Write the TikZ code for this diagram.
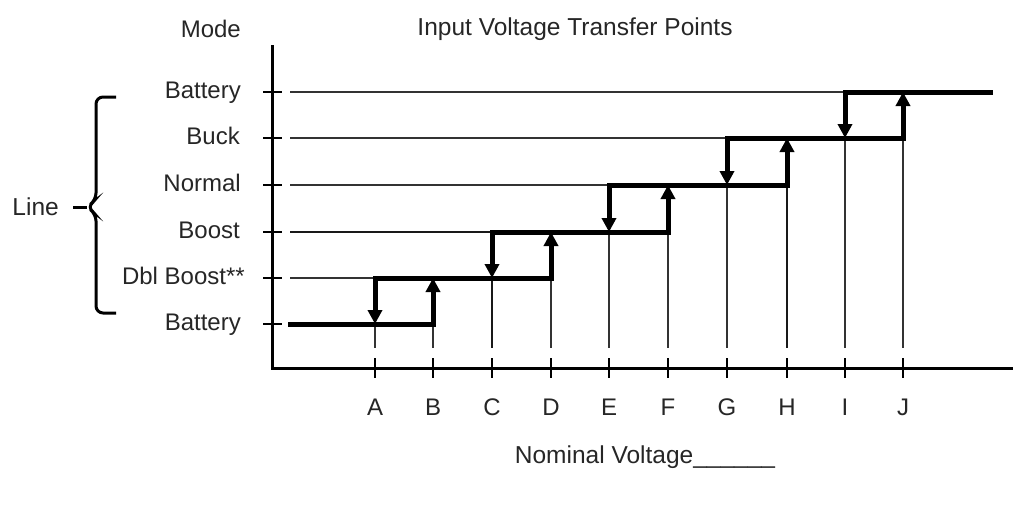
\documentclass[tikz,border=0pt]{standalone}
\usepackage{fontspec}
\setmainfont{Liberation Sans}
\usepackage{tikz}
\usetikzlibrary{arrows.meta,positioning}
\tikzstyle{axis} = [draw, line width=3pt, line join=miter]
\tikzstyle{tick} = [draw, line width=2.5pt]
\tikzstyle{guide} = [draw, line width=1.2pt, black!80]
\tikzstyle{midguide} = [draw, line width=2.4pt, black!90]
\tikzstyle{trace} = [draw, line width=5pt, line cap=rect]
\tikzstyle{jump} = [draw, line width=5pt, -{Triangle[length=14pt,width=14pt]}]
\tikzstyle{mode} = [anchor=base east, inner sep=0pt, text=black!85, font=\fontsize{24}{28}\selectfont]
\tikzstyle{letter} = [inner sep=3pt, text=black!85, font=\fontsize{24}{28}\selectfont]
\tikzstyle{caption} = [anchor=base, inner sep=0pt, text=black!85, font=\fontsize{24.5}{28}\selectfont]
\tikzstyle{brace} = [draw, line width=3pt, rounded corners=7pt]

\begin{document}
\begin{tikzpicture}[x=1pt, y=-1pt]
\useasboundingbox (0,0) rectangle (1024,507);

% axes
\coordinate (origin) at (272,368);
\coordinate (ytop) at (272,45);
\coordinate (xend) at (1013,368);
\path [axis] (ytop) -- (origin) -- (xend);

% mode levels and transfer points
\foreach \lvl/\y in {bat0/324, dbl/278, boost/232, normal/185, buck/138, bat1/92}
  \coordinate (\lvl) at (272,\y);
\foreach \n/\x in {A/375, B/433, C/492, D/551, E/609, F/668, G/727, H/787, I/845, J/903}
  \coordinate (\n) at (\x,368);

% headings
\node [caption] (title) at (575,35) {Input Voltage Transfer Points};
\node [mode] (modehead) at (241,37) {Mode};
\node [caption] (xlabel) at (645,463) {Nominal Voltage\_\_\_\_\_\_};

% mode names
\node [mode] (lbat1) at ([xshift=-31pt,yshift=-6pt]bat1) {Battery};
\node [mode] (lbuck) at ([xshift=-32pt,yshift=-6pt]buck) {Buck};
\node [mode] (lnormal) at ([xshift=-31pt,yshift=-6pt]normal) {Normal};
\node [mode] (lboost) at ([xshift=-32pt,yshift=-6pt]boost) {Boost};
\node [mode] (ldbl) at ([xshift=-27pt,yshift=-6pt]dbl) {Dbl Boost**};
\node [mode] (lbat0) at ([xshift=-31pt,yshift=-6pt]bat0) {Battery};

% the Line brace
\coordinate (bracetop) at (116,97);
\coordinate (bracetip) at (87,207);
\coordinate (bracebot) at (116,313);
\path [brace] (bracetop) -- (96,97) -- (96,200) -- (bracetip) -- (96,214) -- (96,313) -- (bracebot);
\path [draw, line width=3pt] (73,207) -- (bracetip);
\node [caption, anchor=base east] (line) at (59,215) {Line};

% ticks
\foreach \lvl in {bat0, dbl, boost, normal, buck, bat1}
  \path [tick] ([xshift=-9pt]\lvl) -- ([xshift=10pt]\lvl);
\foreach \n in {A, B, C, D, E, F, G, H, I, J} {
  \path [tick] ([yshift=10pt]\n) -- ([yshift=-10pt]\n);
  \node [letter, below=28pt of \n] (l\n) {\n};
}

% thin guides
\path [guide] ([xshift=18pt]bat1) -- (I |- bat1);
\path [guide] ([xshift=18pt]buck) -- (G |- buck);
\path [guide] ([xshift=18pt]normal) -- (E |- normal);
\path [midguide] ([xshift=18pt]boost) -- (C |- boost);
\path [guide] ([xshift=18pt]dbl) -- (A |- dbl);
\foreach \n/\lvl in {A/bat0, B/bat0, D/dbl, E/boost, F/boost, G/normal, I/buck, J/buck}
  \path [guide] (\n |- \lvl) -- ([yshift=20pt]\n);
\path [midguide] (C |- dbl) -- ([yshift=20pt]C);
\path [midguide] (H |- normal) -- ([yshift=20pt]H);

% transfer steps
\path [trace] ([xshift=18pt]bat0) -- (B |- bat0);
\path [trace] (A |- dbl) -- (D |- dbl);
\path [trace] (C |- boost) -- (F |- boost);
\path [trace] (E |- normal) -- (H |- normal);
\path [trace] (G |- buck) -- (J |- buck);
\path [trace] (I |- bat1) -- ([xshift=718pt]bat1);
\foreach \n/\hi/\lo in {A/dbl/bat0, C/boost/dbl, E/normal/boost, G/buck/normal, I/bat1/buck}
  \path [jump] (\n |- \hi) -- (\n |- \lo);
\foreach \n/\hi/\lo in {B/dbl/bat0, D/boost/dbl, F/normal/boost, H/buck/normal, J/bat1/buck}
  \path [jump] (\n |- \lo) -- (\n |- \hi);
\end{tikzpicture}
\end{document}
